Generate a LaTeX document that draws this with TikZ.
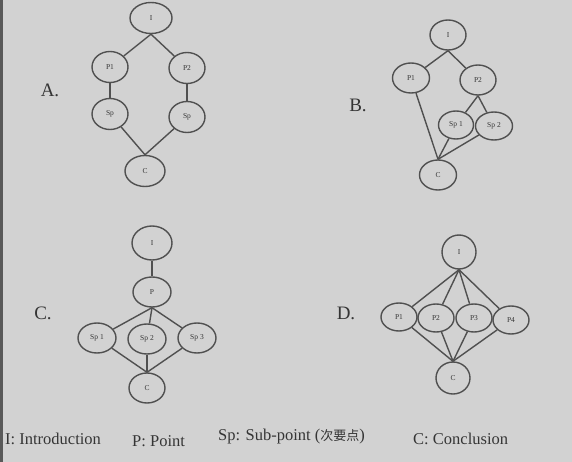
\documentclass[tikz,border=0pt]{standalone}
\usepackage{fontspec}
\setmainfont{Liberation Serif}
\newfontfamily\cjk{Noto Sans CJK SC}
\usetikzlibrary{shapes.geometric}
\definecolor{paper}{HTML}{D2D2D2}
\definecolor{edge}{HTML}{505050}
\definecolor{ink}{HTML}{353535}
\begin{document}
\begin{tikzpicture}[x=1pt,y=-1pt,
  bub/.style={ellipse,draw=edge,line width=1.4pt,inner sep=0pt,
    font=\fontsize{7.5}{8}\selectfont,text=ink},
  link/.style={draw=edge,line width=1.4pt},
  lab/.style={font=\fontsize{19}{22}\selectfont,text=ink},
  leg/.style={font=\fontsize{16.5}{19}\selectfont,text=ink,anchor=base west,inner sep=0pt}]
\useasboundingbox (0,0) rectangle (572,462);
\fill[paper] (0,0) rectangle (572,462);
\fill[black!65] (0,0) rectangle (3,462);

% ---------- A ----------
\node[lab] (la) at (50,90) {A.};
\node[bub,minimum width=42pt,minimum height=31pt] (aI) at (151,18) {I};
\node[bub,minimum width=36pt,minimum height=31pt] (aP1) at (110,67) {P1};
\node[bub,minimum width=36pt,minimum height=31pt] (aP2) at (187,68) {P2};
\node[bub,minimum width=36pt,minimum height=31pt] (aS1) at (110,114) {Sp};
\node[bub,minimum width=36pt,minimum height=31pt] (aS2) at (187,117) {Sp};
\node[bub,minimum width=40pt,minimum height=31pt] (aC) at (145,171) {C};
\draw[link] (aI.south) -- (aP1);
\draw[link] (aI.south) -- (aP2);
\draw[link] (aP1) -- (aS1);
\draw[link] (aP2) -- (aS2);
\draw[link] (aC.north) -- (aS1);
\draw[link] (aC.north) -- (aS2);

% ---------- B ----------
\node[lab] (lb) at (358,105) {B.};
\node[bub,minimum width=36pt,minimum height=30pt] (bI) at (448,35) {I};
\node[bub,minimum width=37pt,minimum height=30pt] (bP1) at (411,78) {P1};
\node[bub,minimum width=36pt,minimum height=30pt] (bP2) at (478,80) {P2};
\node[bub,minimum width=35pt,minimum height=28pt] (bS1) at (456,125) {Sp 1};
\node[bub,minimum width=37pt,minimum height=28pt] (bS2) at (494,126) {Sp 2};
\node[bub,minimum width=37pt,minimum height=30pt] (bC) at (438,175) {C};
\draw[link] (bI.south) -- (bP1);
\draw[link] (bI.south) -- (bP2);
\draw[link] (bP2.south) -- (bS1);
\draw[link] (bP2.south) -- (bS2);
\draw[link] (bC.north) -- (bP1);
\draw[link] (bC.north) -- (bS1);
\draw[link] (bC.north) -- (bS2);

% ---------- C ----------
\node[lab] (lc) at (43,313) {C.};
\node[bub,minimum width=40pt,minimum height=34pt] (cI) at (152,243) {I};
\node[bub,minimum width=38pt,minimum height=30pt] (cP) at (152,292) {P};
\node[bub,minimum width=38pt,minimum height=30pt] (cS1) at (97,338) {Sp 1};
\node[bub,minimum width=38pt,minimum height=30pt] (cS2) at (147,339) {Sp 2};
\node[bub,minimum width=38pt,minimum height=30pt] (cS3) at (197,338) {Sp 3};
\node[bub,minimum width=36pt,minimum height=30pt] (cC) at (147,388) {C};
\draw[link] (cI) -- (cP);
\draw[link] (cP.south) -- (cS1);
\draw[link] (cP.south) -- (cS2);
\draw[link] (cP.south) -- (cS3);
\draw[link] (cC.north) -- (cS1);
\draw[link] (cC.north) -- (cS2);
\draw[link] (cC.north) -- (cS3);

% ---------- D ----------
\node[lab] (ld) at (346,313) {D.};
\node[bub,minimum width=34pt,minimum height=34pt] (dI) at (459,252) {I};
\node[bub,minimum width=36pt,minimum height=28pt] (dP1) at (399,317) {P1};
\node[bub,minimum width=36pt,minimum height=28pt] (dP2) at (436,318) {P2};
\node[bub,minimum width=36pt,minimum height=28pt] (dP3) at (474,318) {P3};
\node[bub,minimum width=36pt,minimum height=28pt] (dP4) at (511,320) {P4};
\node[bub,minimum width=34pt,minimum height=32pt] (dC) at (453,378) {C};
\foreach \p in {dP1,dP2,dP3,dP4}{
  \draw[link] (dI.south) -- (\p);
  \draw[link] (dC.north) -- (\p);
}

% ---------- legend ----------
\node[leg] (g1) at (5,444) {I: Introduction};
\node[leg] (g2) at (132,446) {P: Point};
\node[leg] (g3) at (218,440) {Sp: Sub-point ({\cjk\fontsize{13}{15}\selectfont 次要点})};
\node[leg] (g4) at (413,444) {C: Conclusion};
\end{tikzpicture}
\end{document}
